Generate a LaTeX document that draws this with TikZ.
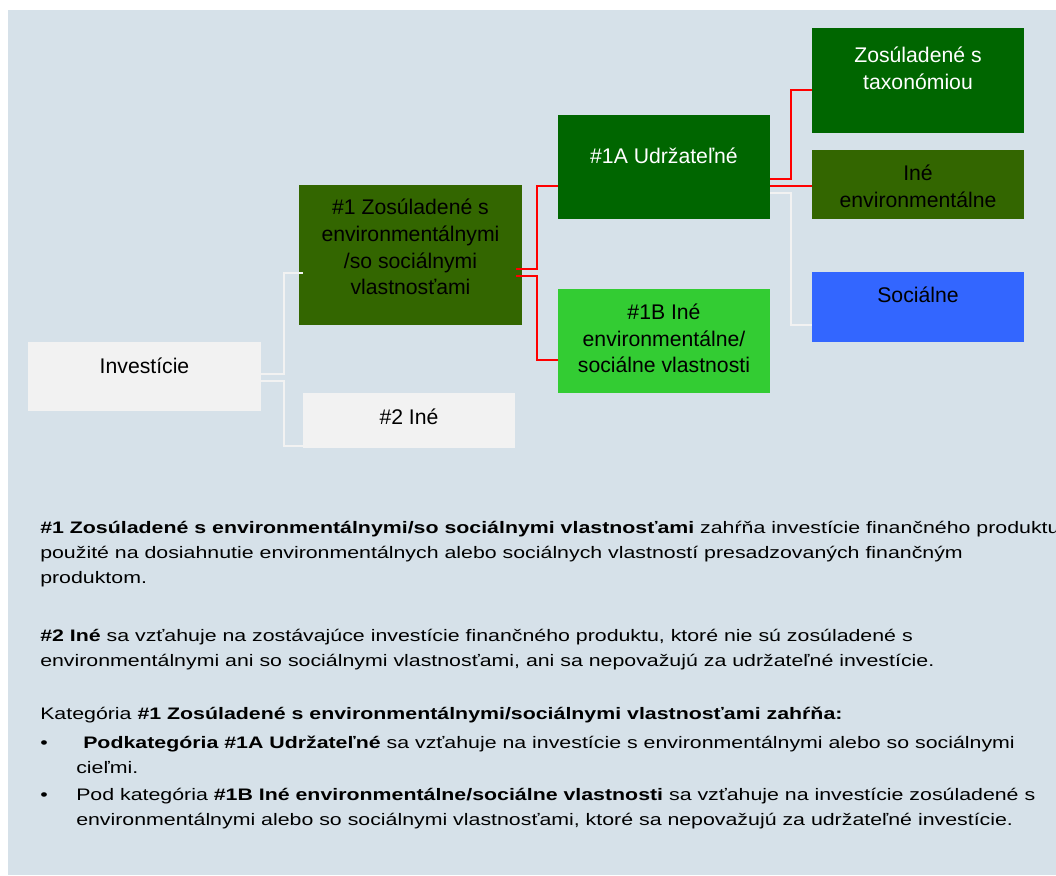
\documentclass[tikz,border=0pt]{standalone}
\usepackage{fontspec}
\setmainfont{Liberation Sans}
\newfontfamily\bodyfont[FakeStretch=1.28]{Liberation Sans}
\usetikzlibrary{calc}
\definecolor{bgblue}{RGB}{214,225,233}
\definecolor{boxgrey}{RGB}{242,242,242}
\definecolor{boxolive}{RGB}{51,102,0}
\definecolor{boxdark}{RGB}{0,102,0}
\definecolor{boxlight}{RGB}{51,204,51}
\definecolor{boxblue}{RGB}{51,102,255}
\tikzset{%
	box/.style={rectangle, inner sep=0pt, fill=#1},
	sz/.style 2 args={minimum width=#1*0.75pt, minimum height=#2*0.75pt},
	txt/.style={align=center, inner sep=0pt, font=\fontsize{15.9}{20}\selectfont},
	redline/.style={draw=red, line width=1.6pt},
	paleline/.style={draw=boxgrey, line width=1.6pt},
	para/.style={anchor=base west, align=left, inner sep=0pt, font=\bodyfont\fontsize{12.5}{18.75}\selectfont}
}

\begin{document}
\begin{tikzpicture}[x=0.75pt, y=-0.75pt]
	\useasboundingbox (0,0) rectangle (1056,875);
	\fill[bgblue] (8,10) rectangle (1056,875);
	% boxes
	\node[box=boxgrey, sz={233}{69}] (inv) at (144.5,376.5) {};
	\node[txt] (inv-t) at ($(inv)+(0,-10.5)$) {Investície};
	\node[box=boxolive, sz={223}{140}] (g1) at (410.5,255) {};
	\node[txt] (g1-t) at ($(g1)+(0,-8)$) {\#1 Zosúladené s\\environmentálnymi\\/so sociálnymi\\vlastnosťami};
	\node[box=boxgrey, sz={212}{55}] (g2) at (409,420.5) {};
	\node[txt] (g2-t) at ($(g2)+(0,-3.5)$) {\#2 Iné};
	\node[box=boxdark, sz={212}{104}] (a1) at (664,167) {};
	\node[txt, white] (a1-t) at ($(a1)+(0,-11)$) {\#1A Udržateľné};
	\node[box=boxlight, sz={212}{104}] (b1) at (664,341) {};
	\node[txt] (b1-t) at ($(b1)+(0,-2.5)$) {\#1B Iné\\environmentálne/\\sociálne vlastnosti};
	\node[box=boxdark, sz={212}{105}] (tx) at (918,80.5) {};
	\node[txt, white] (tx-t) at ($(tx)+(0,-12)$) {Zosúladené s\\taxonómiou};
	\node[box=boxolive, sz={212}{69}] (ev) at (918,184.5) {};
	\node[txt] (ev-t) at ($(ev)+(0,1.5)$) {Iné\\environmentálne};
	\node[box=boxblue, sz={212}{70}] (so) at (918,307) {};
	\node[txt] (so-t) at ($(so)+(0,-12)$) {Sociálne};
	% connectors
	\draw[paleline] ($(inv.east)+(0,-2.5)$) -- ++(23,0) |- ($(g1.west)+(4,18)$);
	\draw[paleline] ($(inv.east)+(0,4.5)$) -- ++(23,0) |- ($(g2.west)+(0,25.5)$);
	\draw[redline] ($(g1.east)+(-6,14)$) -- ++(21,0) |- ($(a1.west)+(0,19)$);
	\draw[redline] ($(g1.east)+(-6,21)$) -- ++(21,0) |- ($(b1.west)+(0,19)$);
	\draw[redline] ($(a1.east)+(0,12)$) -- ++(21,0) |- ($(tx.west)+(0,9.5)$);
	\draw[redline] ($(a1.east)+(0,19)$) -- ($(ev.west)+(0,1.5)$);
	\draw[paleline] ($(a1.east)+(0,26)$) -- ++(21,0) |- ($(so.west)+(0,18)$);
	% text below (base = last line)
	\node[para] (p1) at (40,583) {\textbf{\#1 Zosúladené s environmentálnymi/so sociálnymi vlastnosťami} zahŕňa investície finančného produktu\\použité na dosiahnutie environmentálnych alebo sociálnych vlastností presadzovaných finančným\\produktom.};
	\node[para] (p2) at (40,666) {\textbf{\#2 Iné} sa vzťahuje na zostávajúce investície finančného produktu, ktoré nie sú zosúladené s\\environmentálnymi ani so sociálnymi vlastnosťami, ani sa nepovažujú za udržateľné investície.};
	\node[para] (p3) at (40,719) {Kategória \textbf{\#1 Zosúladené s environmentálnymi/sociálnymi vlastnosťami zahŕňa:}};
	\node[para] (d1) at (40,748) {•};
	\node[para] (l1) at (83,748) {\textbf{Podkategória \#1A Udržateľné} sa vzťahuje na investície s environmentálnymi alebo so sociálnymi};
	\node[para] (l1b) at (76,773) {cieľmi.};
	\node[para] (d2) at (40,800) {•};
	\node[para] (l2) at (76,825) {Pod kategória \textbf{\#1B Iné environmentálne/sociálne vlastnosti} sa vzťahuje na investície zosúladené s\\environmentálnymi alebo so sociálnymi vlastnosťami, ktoré sa nepovažujú za udržateľné investície.};
\end{tikzpicture}
\end{document}
